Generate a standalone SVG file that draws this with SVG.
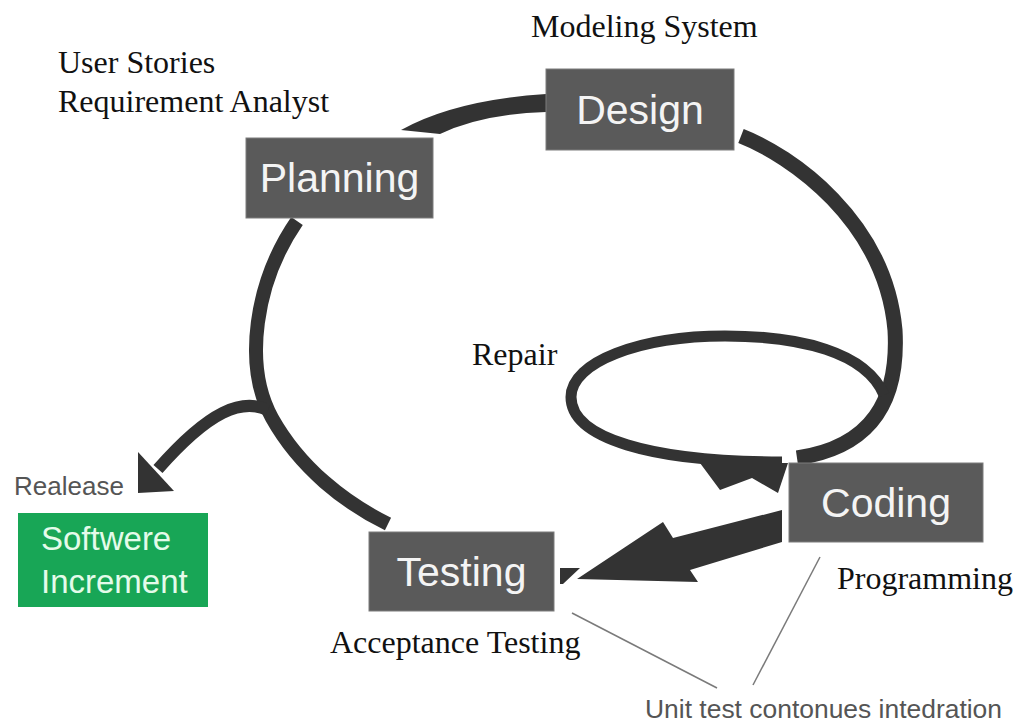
<svg xmlns="http://www.w3.org/2000/svg" width="1024" height="725" viewBox="0 0 1024 725">
  <style>
    .box{fill:#5a5a5a;stroke:#7c7c7c;stroke-width:1}
    .boxtxt{font-family:"Liberation Sans",Arial,sans-serif;font-size:41px;fill:#f4f4f4;text-anchor:middle}
    .serif{font-family:"Liberation Serif","Times New Roman",serif;font-size:32px;fill:#111}
    .sans{font-family:"Liberation Sans",Arial,sans-serif;font-size:26px;fill:#555}
    .band{fill:none;stroke:#333;stroke-linecap:butt}
    .solid{fill:#333}
    .thin{fill:none;stroke:#7a7a7a;stroke-width:1.5}
    .inc{font-family:"Liberation Sans",Arial,sans-serif;font-size:33px;fill:#e4fbea}
  </style>
  <rect width="1024" height="725" fill="#ffffff"/>

  <!-- cycle connectors -->
  <g id="connectors">
    <!-- planning to design (tapered band) -->
    <path class="solid" d="M401,130 Q455,100 546,94 L546,112 Q482,114 440,134 Z"/>
    <!-- design down to coding -->
    <path class="band" stroke-width="15" d="M741,136 C790,155 885,220 895,330 C899,400 872,447 797,458"/>
    <!-- repair loop -->
    <path class="band" stroke-width="11" d="M884,395 C866,352 800,336 725,336 C640,336 571,362 571,397 C571,438 650,462 782,462"/>
    <path class="solid" d="M700,463 L720,490 L752,478 L778,493 L788,463 Z"/>
    <!-- coding to testing -->
    <path class="solid" d="M782,510 L673,538 L663,522 L577,579 L698,582 L690,570 L782,542 Z"/>
    <path class="solid" d="M560,568 L580,568 L563,584 L560,584 Z"/>
    <!-- testing back up to planning -->
    <path class="band" stroke-width="14" d="M297,221 C255,282 243,365 272,418 C300,468 345,503 388,524"/>
    <!-- release branch -->
    <path class="band" stroke-width="12" d="M268,410 C242,398 210,410 158,469"/>
    <path class="solid" d="M138,452 L138,493 L174,491 Z"/>
    <!-- callout lines -->
    <line class="thin" x1="572" y1="613" x2="717" y2="688"/>
    <line class="thin" x1="820" y1="557" x2="753" y2="685"/>
  </g>

  <g id="planning">
    <rect class="box" x="246" y="138" width="187" height="80"/>
    <text class="boxtxt" x="339.5" y="192">Planning</text>
  </g>
  <g id="design">
    <rect class="box" x="546" y="69" width="188" height="81"/>
    <text class="boxtxt" x="640" y="124">Design</text>
  </g>
  <g id="coding">
    <rect class="box" x="789" y="463" width="194" height="79"/>
    <text class="boxtxt" x="886" y="517">Coding</text>
  </g>
  <g id="testing">
    <rect class="box" x="369" y="532" width="185" height="79"/>
    <text class="boxtxt" x="461.5" y="586">Testing</text>
  </g>
  <g id="increment">
    <rect x="18" y="513" width="190" height="94" fill="#18a656"/>
    <text class="inc" x="41" y="550">Softwere</text>
    <text class="inc" x="41" y="593">Increment</text>
  </g>

  <g id="labels">
    <text class="serif" x="531" y="37">Modeling System</text>
    <text class="serif" x="58" y="73">User Stories</text>
    <text class="serif" x="58" y="112">Requirement Analyst</text>
    <text class="serif" x="472" y="365">Repair</text>
    <text class="serif" x="837" y="589">Programming</text>
    <text class="serif" x="330" y="653">Acceptance Testing</text>
    <text class="sans" x="14" y="495">Realease</text>
    <text class="sans" x="645" y="718" textLength="357" lengthAdjust="spacingAndGlyphs">Unit test contonues intedration</text>
  </g>
</svg>
